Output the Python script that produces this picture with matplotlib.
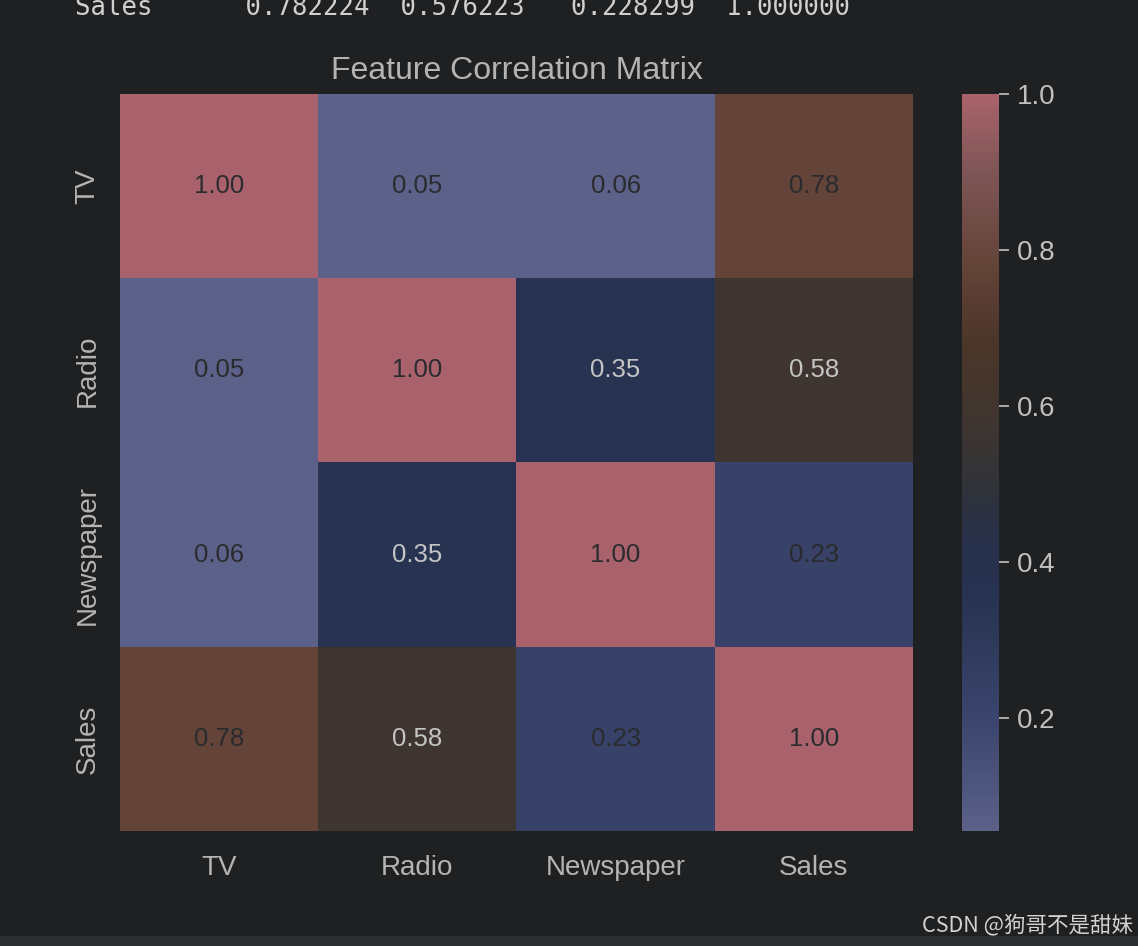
import matplotlib
matplotlib.use('Agg')
import matplotlib.pyplot as plt
import numpy as np
import pandas as pd
import seaborn as sns
from matplotlib.colors import LinearSegmentedColormap
from matplotlib.patches import Rectangle

# correlation matrix of the advertising data
features = ['TV', 'Radio', 'Newspaper', 'Sales']
tv = [1.000000, 0.054809, 0.056648, 0.782224]
radio = [0.054809, 1.000000, 0.354104, 0.576223]
newspaper = [0.056648, 0.354104, 1.000000, 0.228299]
sales = [0.782224, 0.576223, 0.228299, 1.000000]

corr = pd.DataFrame([tv, radio, newspaper, sales], index=features, columns=features)

bg = '#1f2022'
txt = '#b4b4b4'

# dark-mode looking version of coolwarm
vmin, vmax = corr.values.min(), 1.0
stops = [(vmin, '#5b6188'), (0.2, '#3b446c'), (0.35, '#283352'), (0.42, '#28314d'),
         (0.5, '#313338'), (0.58, '#3f3530'), (0.68, '#4b3529'), (0.78, '#634338'),
         (0.9, '#7d5556'), (vmax, '#a9626b')]
cmap = LinearSegmentedColormap.from_list(
    'darkcw', [((v - vmin) / (vmax - vmin), c) for v, c in stops])

fig = plt.figure(figsize=(11.38, 9.46), dpi=100, facecolor=bg)
ax = fig.add_axes([0.1054, 0.1216, 0.6969, 0.779])
cax = fig.add_axes([0.8453, 0.1216, 0.0325, 0.779])

sns.heatmap(corr, ax=ax, cbar_ax=cax, cmap=cmap, vmin=vmin, vmax=vmax,
            annot=False, linewidths=0)

font = 'Liberation Sans'
for i in range(len(features)):
    for j in range(len(features)):
        v = corr.values[i, j]
        col = '#c4c4c4' if 0.3 < v < 0.7 else '#2a2b2e'
        ax.text(j + 0.5, i + 0.5, f'{v:.2f}', ha='center', va='center',
                fontsize=18.5, color=col, family=font)

ax.set_facecolor(bg)
ax.tick_params(axis='x', length=0, colors=txt, labelsize=20, pad=17.5)
ax.tick_params(axis='y', length=0, colors=txt, labelsize=20, pad=14)
ax.set_xticklabels(features, family=font, color=txt)
ax.set_yticklabels(features, family=font, color=txt, rotation=90, va='center')
ax.set_xlabel('')
ax.set_ylabel('')
ax.set_title('Feature Correlation Matrix', fontsize=23, color=txt, family=font, pad=11)

cax.tick_params(colors='#c0c0c0', labelsize=20, length=7, width=1.2, pad=6)
cax.set_yticks([0.2, 0.4, 0.6, 0.8, 1.0])
cax.set_yticklabels(['0.2', '0.4', '0.6', '0.8', '1.0'], family=font, color='#c0c0c0')

# console output above the plot
row = 'Sales      ' + '  '.join([f'{sales[0]:.6f}', f'{sales[1]:.6f}', f' {sales[2]:.6f}', f'{sales[3]:.6f}'])
fig.text(75 / 1138, 1 - 15 / 946, row, family='DejaVu Sans Mono', fontsize=18.5,
         color='#cfcfcf', va='baseline', ha='left')

fig.patches.append(Rectangle((0, 0), 1, 10 / 946, transform=fig.transFigure,
                             facecolor='#2b2d30', edgecolor='none'))
fig.text(0.996, 1 - 925 / 946, 'CSDN @狗哥不是甜妹', family=['Noto Sans CJK SC', 'DejaVu Sans'],
         fontsize=15.5, color='#d2d2d2', ha='right', va='center')

fig.savefig('out.png', dpi=100, facecolor=bg)
